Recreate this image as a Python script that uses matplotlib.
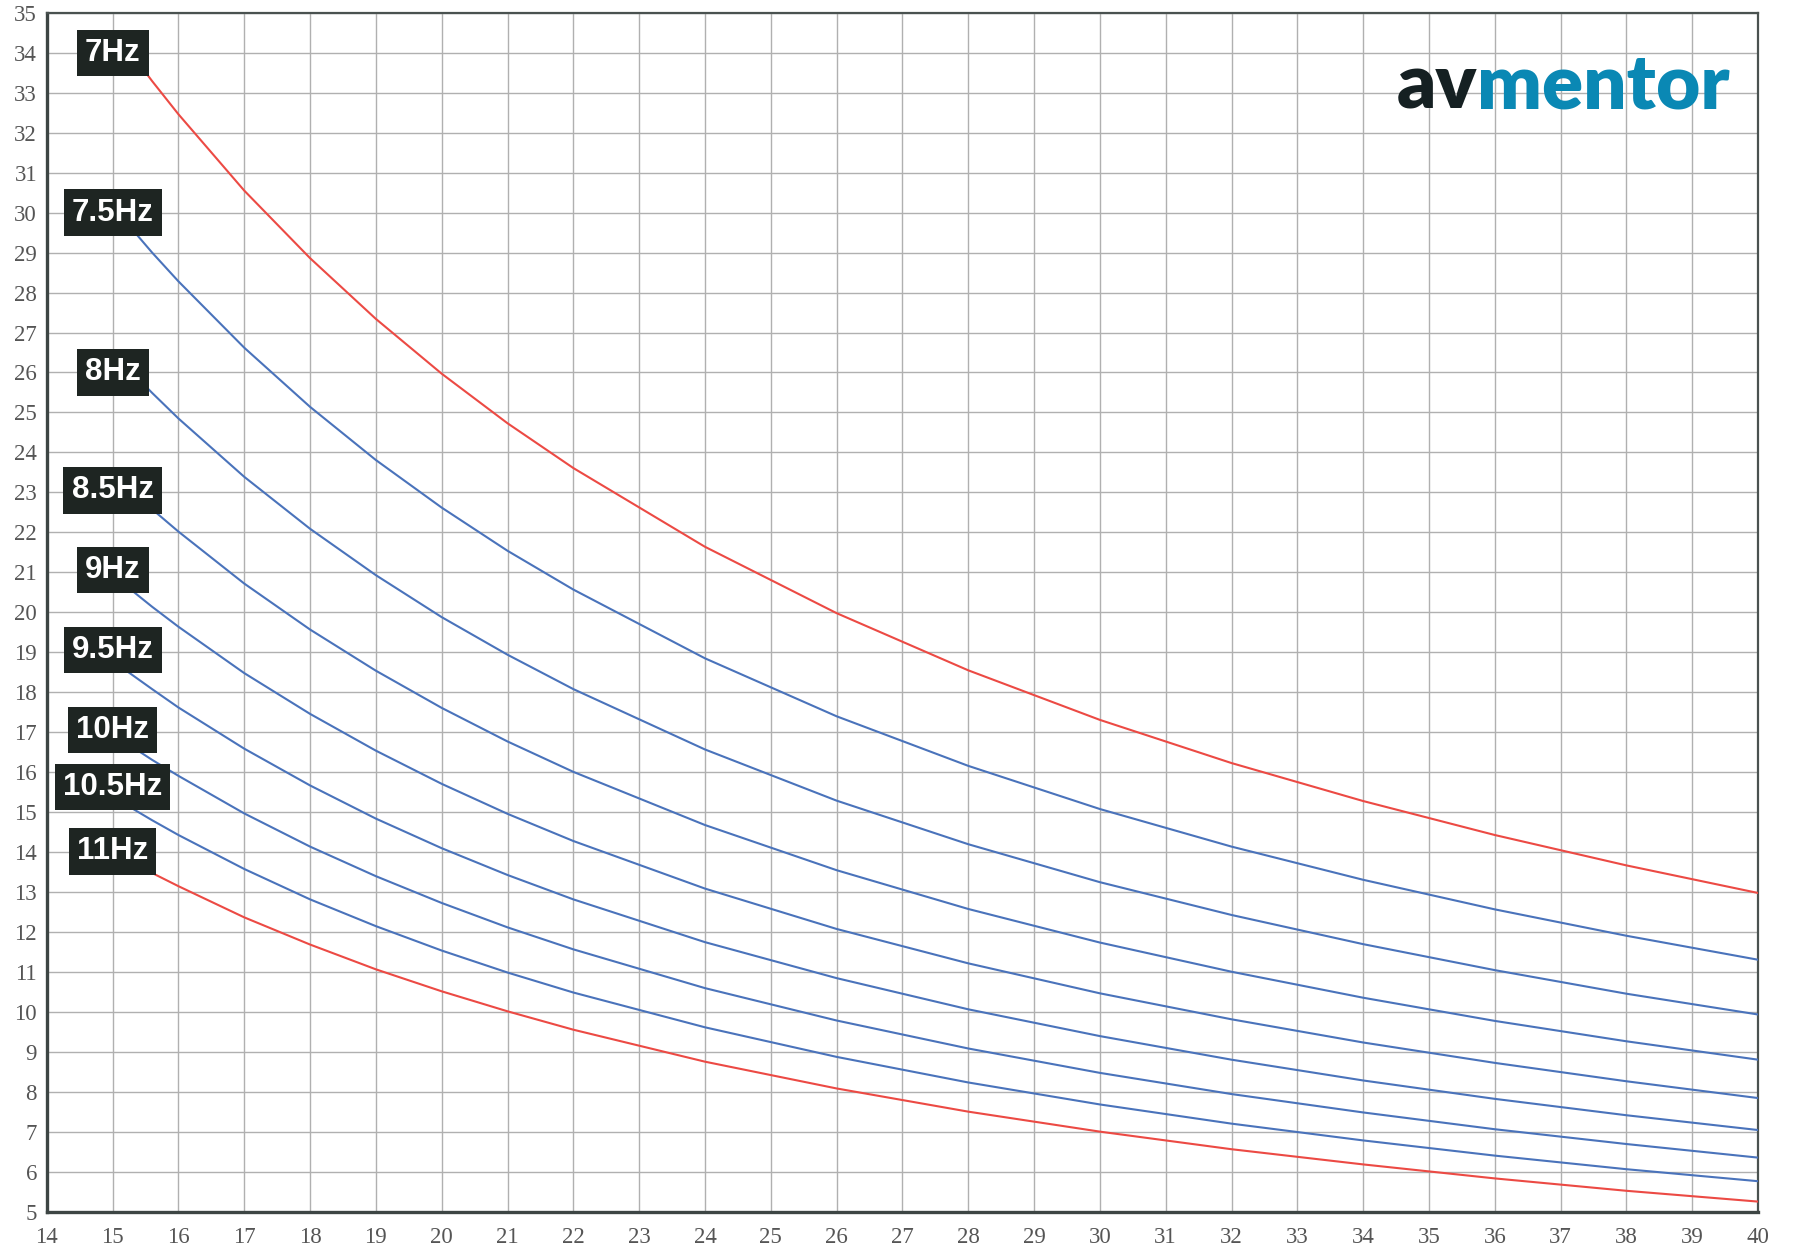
import matplotlib
matplotlib.use("Agg")
import matplotlib.pyplot as plt

# distances (x axis) at which the curves were read
x_vals = [15.2, 15.6, 16, 17, 18, 19, 20, 21, 22, 24, 26, 28, 30, 32, 34, 36, 38, 40]

freq_labels = ["7Hz", "7.5Hz", "8Hz", "8.5Hz", "9Hz", "9.5Hz", "10Hz", "10.5Hz", "11Hz"]

y_7 = [34.17, 33.29, 32.46, 30.55, 28.86, 27.34, 25.97, 24.73, 23.61, 21.64, 19.98, 18.55, 17.31, 16.23, 15.28, 14.43, 13.67, 12.98]
y_7_5 = [29.77, 29.00, 28.28, 26.62, 25.14, 23.81, 22.62, 21.54, 20.57, 18.85, 17.40, 16.16, 15.08, 14.14, 13.31, 12.57, 11.91, 11.31]
y_8 = [26.16, 25.49, 24.85, 23.39, 22.09, 20.93, 19.88, 18.94, 18.08, 16.57, 15.29, 14.20, 13.25, 12.43, 11.70, 11.05, 10.46, 9.94]
y_8_5 = [23.17, 22.58, 22.02, 20.72, 19.57, 18.54, 17.61, 16.77, 16.01, 14.68, 13.55, 12.58, 11.74, 11.01, 10.36, 9.78, 9.27, 8.81]
y_9 = [20.67, 20.14, 19.64, 18.48, 17.46, 16.54, 15.71, 14.96, 14.28, 13.09, 12.08, 11.22, 10.47, 9.82, 9.24, 8.73, 8.27, 7.85]
y_9_5 = [18.55, 18.08, 17.62, 16.59, 15.67, 14.84, 14.10, 13.43, 12.82, 11.75, 10.85, 10.07, 9.40, 8.81, 8.29, 7.83, 7.42, 7.05]
y_10 = [16.74, 16.31, 15.91, 14.97, 14.14, 13.40, 12.73, 12.12, 11.57, 10.60, 9.79, 9.09, 8.48, 7.95, 7.49, 7.07, 6.70, 6.36]
y_10_5 = [15.19, 14.80, 14.43, 13.58, 12.82, 12.15, 11.54, 10.99, 10.49, 9.62, 8.88, 8.24, 7.69, 7.21, 6.79, 6.41, 6.07, 5.77]
y_11 = [13.84, 13.48, 13.15, 12.37, 11.69, 11.07, 10.52, 10.02, 9.56, 8.76, 8.09, 7.51, 7.01, 6.57, 6.19, 5.84, 5.53, 5.26]

series = [y_7, y_7_5, y_8, y_8_5, y_9, y_9_5, y_10, y_10_5, y_11]

# label box positions (x, y) in data units
label_x = 15
label_y = [34.0, 30.0, 26.0, 23.05, 21.05, 19.05, 17.05, 15.63, 14.02]

x_ticks = list(range(14, 41))
y_ticks = list(range(5, 36))

RED = "#ec4a44"
BLUE = "#4a73bb"
line_colors = [RED, BLUE, BLUE, BLUE, BLUE, BLUE, BLUE, BLUE, RED]

fig = plt.figure(figsize=(17.93, 12.46), dpi=100)
ax = fig.add_axes([0.0261, 0.0273, 0.9544, 0.9625])

for ys, c in zip(series, line_colors):
    ax.plot(x_vals, ys, color=c, lw=1.5, zorder=3, solid_joinstyle="round")

for lab, ly in zip(freq_labels, label_y):
    ax.text(label_x, ly, lab, ha="center", va="center", color="white",
            fontsize=22.5, fontweight="bold", family="Liberation Sans", zorder=5,
            bbox=dict(boxstyle="square,pad=0.26", fc="#1e2522", ec="none"))

ax.set_xlim(14, 40)
ax.set_ylim(5, 35)
ax.set_xticks(x_ticks)
ax.set_yticks(y_ticks)
ax.set_xticklabels([str(v) for v in x_ticks])
ax.set_yticklabels([str(v) for v in y_ticks])
ax.tick_params(length=0, labelsize=16.5, labelcolor="#555555")
ax.tick_params(axis="x", pad=11)
ax.tick_params(axis="y", pad=7)
for lbl in ax.get_xticklabels() + ax.get_yticklabels():
    lbl.set_family("Liberation Serif")

ax.grid(True, color="#b0b0b0", lw=1.0, zorder=0)
ax.set_axisbelow(True)

for side in ["left", "bottom"]:
    ax.spines[side].set_linewidth(2.4)
    ax.spines[side].set_color("#3d4544")
for side in ["top", "right"]:
    ax.spines[side].set_linewidth(1.6)
    ax.spines[side].set_color("#4a5250")

# logo
ax.text(0.836, 0.92, "av", transform=ax.transAxes, ha="right", va="baseline",
        fontsize=55, fontweight="heavy", family="Lato", color="#152022", zorder=6)
ax.text(0.836, 0.92, "mentor", transform=ax.transAxes, ha="left", va="baseline",
        fontsize=55, fontweight="heavy", family="Lato", color="#0a88b4", zorder=6)

fig.savefig("out.png", dpi=100, facecolor="white")
